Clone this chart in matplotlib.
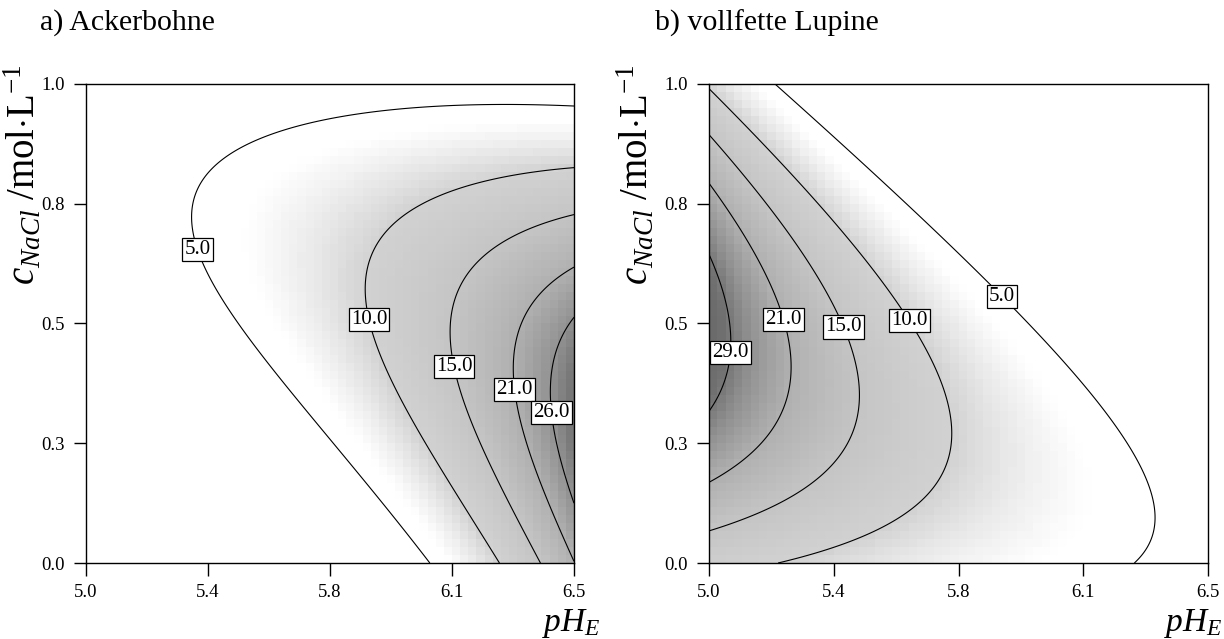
import numpy as np
import matplotlib
matplotlib.use("Agg")
import matplotlib.pyplot as plt
from matplotlib.colors import LinearSegmentedColormap

# ---------------- data ----------------
titles = ["a) Ackerbohne", "b) vollfette Lupine"]
x_ticks = [5.0, 5.375, 5.75, 6.125, 6.5]
x_tick_labels = ["5.0", "5.4", "5.8", "6.1", "6.5"]
y_ticks = [0.0, 0.25, 0.5, 0.75, 1.0]
y_tick_labels = ["0.0", "0.3", "0.5", "0.8", "1.0"]

levels_a = [5.0, 10.0, 15.0, 21.0, 26.0]
levels_b = [5.0, 10.0, 15.0, 21.0, 29.0]

# contour traces (pH, c_NaCl) for each level
a5_x = [6.048, 5.858, 5.679, 5.437, 5.381, 5.335, 5.366, 5.473, 5.658, 5.965, 6.5]
a5_y = [0.000, 0.174, 0.341, 0.508, 0.591, 0.690, 0.800, 0.873, 0.915, 0.940, 0.952]
a10_x = [6.282, 6.150, 5.996, 5.913, 5.879, 5.870, 5.882, 5.934, 6.027, 6.180, 6.5]
a10_y = [0.000, 0.132, 0.278, 0.383, 0.451, 0.508, 0.591, 0.695, 0.779, 0.831, 0.862]
a15_x = [6.423, 6.288, 6.159, 6.122, 6.119, 6.141, 6.202, 6.334, 6.5]
a15_y = [0.000, 0.132, 0.278, 0.362, 0.420, 0.501, 0.591, 0.685, 0.727]
a21_x = [6.5, 6.411, 6.325, 6.309, 6.312, 6.364, 6.466, 6.5]
a21_y = [0.033, 0.132, 0.278, 0.357, 0.417, 0.522, 0.591, 0.612]
a26_x = [6.5, 6.435, 6.420, 6.426, 6.447, 6.5]
a26_y = [0.143, 0.278, 0.314, 0.377, 0.451, 0.514]

# contour traces
b5_x = [5.201, 5.553, 5.890, 6.175, 6.310, 6.338, 6.287]
b5_y = [1.000, 0.777, 0.562, 0.338, 0.171, 0.098, 0.000]
b10_x = [5.000, 5.259, 5.514, 5.604, 5.673, 5.703, 5.724, 5.694, 5.541, 5.183]
b10_y = [1.000, 0.793, 0.589, 0.511, 0.415, 0.344, 0.255, 0.171, 0.088, 0.000]
b15_x = [5.000, 5.168, 5.334, 5.403, 5.433, 5.445, 5.448, 5.364, 5.213, 5.000]
b15_y = [0.896, 0.745, 0.589, 0.520, 0.428, 0.359, 0.296, 0.192, 0.119, 0.073]
b21_x = [5.000, 5.108, 5.177, 5.213, 5.237, 5.243, 5.228, 5.168, 5.093, 5.000]
b21_y = [0.787, 0.672, 0.589, 0.532, 0.449, 0.401, 0.338, 0.255, 0.203, 0.175]
b29_x = [5.000, 5.033, 5.063, 5.078, 5.054, 5.018, 5.000]
b29_y = [0.640, 0.589, 0.484, 0.438, 0.380, 0.338, 0.317]

traces_a = [(a5_x, a5_y), (a10_x, a10_y), (a15_x, a15_y), (a21_x, a21_y), (a26_x, a26_y)]
traces_b = [(b5_x, b5_y), (b10_x, b10_y), (b15_x, b15_y), (b21_x, b21_y), (b29_x, b29_y)]

# label anchor positions (pH, c)
label_pos_a = [(5.341, 0.655), (5.873, 0.508), (6.128, 0.41), (6.309, 0.362), (6.42, 0.314)]
label_pos_b = [(5.890, 0.562), (5.610, 0.509), (5.412, 0.495), (5.228, 0.509), (5.078, 0.438)]

# ---------------- response surface model (polynomial in ln z) ----------------
def _xy(x, y):
    X = (np.asarray(x, float) - 5.75) / 0.75
    Y = (np.asarray(y, float) - 0.5) / 0.5
    return X, Y

def design(x, y, deg):
    X, Y = _xy(x, y)
    cols = []
    for d in range(deg + 1):
        for j in range(d + 1):
            cols.append(X ** (d - j) * Y ** j)
    return np.stack(cols, axis=-1)

def design_grad(x, y, deg):
    X, Y = _xy(x, y)
    gx, gy = [], []
    for d in range(deg + 1):
        for j in range(d + 1):
            k = d - j
            gx.append(k * X ** max(k - 1, 0) * Y ** j if k > 0 else np.zeros_like(X))
            gy.append(j * X ** k * Y ** max(j - 1, 0) if j > 0 else np.zeros_like(X))
    return np.stack(gx, axis=-1), np.stack(gy, axis=-1)

def fit(traces, levels, deg, outer_weight=1.0, iters=30):
    xs, ys, zs, base = [], [], [], []
    for k, ((tx, ty), lv) in enumerate(zip(traces, levels)):
        xs += list(tx); ys += list(ty); zs += [lv] * len(tx)
        base += [outer_weight if k == 0 else 1.0] * len(tx)
    base = np.asarray(base)
    A = design(xs, ys, deg)
    GX, GY = design_grad(xs, ys, deg)
    t = np.log(zs)
    w = base.copy()
    for _ in range(iters):
        coef, *_ = np.linalg.lstsq(A * w[:, None], t * w, rcond=None)
        g = np.hypot(GX @ coef, GY @ coef)
        w = base / np.clip(g, 0.05, None)
    return coef

def evaluate(coef, x, y, deg):
    return np.exp(design(x, y, deg) @ coef)

# ---------------- style ----------------
plt.rcParams['font.family'] = ['Liberation Serif', 'DejaVu Serif']
plt.rcParams['mathtext.fontset'] = 'custom'
plt.rcParams['mathtext.rm'] = 'Liberation Serif'
plt.rcParams['mathtext.it'] = 'Liberation Serif:italic'

gray_nodes = [(0.0, 1.0), (6.0, 1.0), (10.0, 0.82), (15.0, 0.77), (21.0, 0.69),
              (26.0, 0.57), (30.0, 0.44), (36.0, 0.38)]
zmax_c = gray_nodes[-1][0]
cmap = LinearSegmentedColormap.from_list(
    "g", [(z / zmax_c, (g, g, g)) for z, g in gray_nodes])

W, H = 1224, 639
fig = plt.figure(figsize=(W / 100, H / 100), dpi=100)

axes_px = [(86, 574), (709, 1208)]
top_px, bot_px = 84, 563

panels = [(traces_a, levels_a, label_pos_a, 3, 3.0), (traces_b, levels_b, label_pos_b, 2, 1.0)]
title_x = [40, 655]
ylab_r = [44, 657]
xlab_r = [601, 1223]

for i, (traces, levels, lpos, deg, ow) in enumerate(panels):
    l, r = axes_px[i]
    ax = fig.add_axes([l / W, 1 - bot_px / H, (r - l) / W, (bot_px - top_px) / H])
    coef = fit(traces, levels, deg, ow)

    # shading on coarse cells
    ncell = 60
    ex = np.linspace(5.0, 6.5, ncell + 1)
    ey = np.linspace(0.0, 1.0, ncell + 1)
    cx = 0.5 * (ex[1:] + ex[:-1]); cy = 0.5 * (ey[1:] + ey[:-1])
    CX, CY = np.meshgrid(cx, cy)
    ZC = evaluate(coef, CX, CY, deg)
    ax.pcolormesh(ex, ey, ZC, cmap=cmap, vmin=0, vmax=zmax_c, shading='flat',
                  rasterized=True)

    gx = np.linspace(5.0, 6.5, 400)
    gy = np.linspace(0.0, 1.0, 400)
    GXg, GYg = np.meshgrid(gx, gy)
    ZG = evaluate(coef, GXg, GYg, deg)
    cs = ax.contour(GXg, GYg, ZG, levels=levels, colors='black', linewidths=0.8)
    texts = ax.clabel(cs, levels, manual=lpos, inline=False, fmt='%.1f', fontsize=15)
    for t in texts:
        t.set_rotation(0)
        t.set_bbox(dict(boxstyle='square,pad=0.1', facecolor='white',
                        edgecolor='black', linewidth=0.9))
        t.set_zorder(5)

    ax.set_xlim(5.0, 6.5)
    ax.set_ylim(0.0, 1.0)
    ax.set_xticks(x_ticks)
    ax.set_xticklabels(x_tick_labels)
    ax.set_yticks(y_ticks)
    ax.set_yticklabels(y_tick_labels)
    ax.tick_params(direction='out', length=9, width=1, labelsize=13.5, pad=6,
                   colors='black')
    for s in ax.spines.values():
        s.set_linewidth(1.0)
        s.set_color('black')

    fig.text(title_x[i] / W, 1 - 23 / H, titles[i], fontsize=21.5, ha='left', va='center')
    fig.text(ylab_r[i] / W, 1 - 64 / H, r'$c_{NaCl}$ /mol$\cdot$L$^{-1}$', fontsize=28,
             rotation=90, ha='right', va='top')
    fig.text(xlab_r[i] / W, 1 - 624 / H, r'$pH_E$', fontsize=24, ha='right', va='center')

fig.savefig("out.png", dpi=100)
